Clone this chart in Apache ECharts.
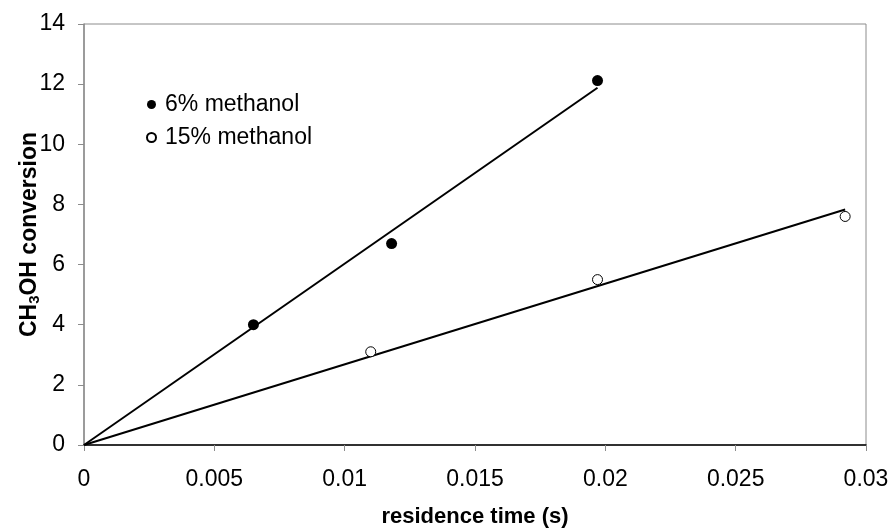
<!DOCTYPE html>
<html>
<head>
<meta charset="utf-8">
<script src="https://cdn.jsdelivr.net/npm/echarts@6/dist/echarts.min.js"></script>
<style>
  html, body { margin: 0; padding: 0; background: #fff; }
  #chart { width: 892px; height: 529px; }
</style>
</head>
<body>
<div id="chart"></div>
<script>
// Measured conversion vs residence time
const series6Name = '6% methanol';
const series15Name = '15% methanol';
const time6 = [0.0065, 0.0118, 0.0197];
const conv6 = [4.0, 6.7, 12.12];
const time15 = [0.011, 0.0197, 0.0292];
const conv15 = [3.1, 5.5, 7.6];

// Linear fits through the origin (start and end points of each trend line)
const fit6 = [[0, 0], [0.0197, 11.88]];
const fit15 = [[0, 0], [0.0292, 7.83]];

const FONT = '"Liberation Sans", Arial, sans-serif';

const chart = echarts.init(document.getElementById('chart'), null, { renderer: 'canvas' });

chart.setOption({
  backgroundColor: '#ffffff',
  animation: false,
  textStyle: { fontFamily: FONT },
  grid: {
    left: 84, right: 26, top: 24, bottom: 84,
    outerBoundsMode: 'none',
    containLabel: false,
    show: true, borderColor: '#8c8c8c', borderWidth: 1
  },
  legend: {
    orient: 'vertical',
    left: 141,
    top: 88,
    itemWidth: 9,
    itemHeight: 9,
    itemGap: 10,
    textStyle: { fontFamily: FONT, fontSize: 23, color: '#000', padding: [0, 0, 0, 4] },
    data: [series6Name, series15Name]
  },
  xAxis: {
    type: 'value',
    min: 0,
    max: 0.03,
    interval: 0.005,
    name: 'residence time (s)',
    nameLocation: 'middle',
    nameGap: 61,
    nameMoveOverlap: false,
    nameTextStyle: { fontFamily: FONT, fontSize: 22, fontWeight: 'bold', color: '#000' },
    axisLine: { show: true, lineStyle: { color: '#000', width: 1.5 } },
    axisTick: { show: true, inside: false, length: 6, lineStyle: { color: '#8c8c8c' } },
    axisLabel: { margin: 23, fontSize: 23, color: '#000', fontFamily: FONT },
    splitLine: { show: false }
  },
  yAxis: {
    type: 'value',
    min: 0,
    max: 14,
    interval: 2,
    name: '{b|CH}{s|3}{b|OH conversion}',
    nameLocation: 'middle',
    nameGap: 42,
    nameRotate: 90,
    nameMoveOverlap: false,
    nameTextStyle: {
      rich: {
        b: { fontFamily: FONT, fontSize: 23, fontWeight: 'bold', color: '#000' },
        s: { fontFamily: FONT, fontSize: 15, fontWeight: 'bold', color: '#000', verticalAlign: 'bottom', padding: [10, 0, 0, 0] }
      }
    },
    axisLine: { show: true, lineStyle: { color: '#8c8c8c', width: 1.5 } },
    axisTick: { show: true, inside: false, length: 6, lineStyle: { color: '#8c8c8c' } },
    axisLabel: { margin: 19, fontSize: 23, color: '#000', fontFamily: FONT },
    splitLine: { show: false }
  },
  series: [
    {
      name: 'fit6',
      type: 'line',
      data: fit6,
      symbol: 'none',
      lineStyle: { color: '#000', width: 2 },
      z: 2,
      silent: true
    },
    {
      name: 'fit15',
      type: 'line',
      data: fit15,
      symbol: 'none',
      lineStyle: { color: '#000', width: 2 },
      z: 2,
      silent: true
    },
    {
      name: series6Name,
      type: 'scatter',
      data: time6.map((t, i) => [t, conv6[i]]),
      symbol: 'circle',
      symbolSize: 11,
      itemStyle: { color: '#000', borderColor: '#000', borderWidth: 0, opacity: 1 },
      z: 5
    },
    {
      name: series15Name,
      type: 'scatter',
      data: time15.map((t, i) => [t, conv15[i]]),
      symbol: 'circle',
      symbolSize: 10,
      itemStyle: { color: '#fff', borderColor: '#000', borderWidth: 1, opacity: 1 },
      z: 5
    }
  ]
});
</script>
</body>
</html>
